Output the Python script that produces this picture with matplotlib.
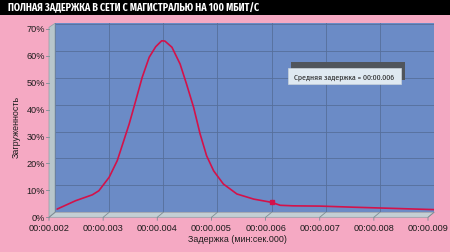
import numpy as np
import matplotlib
matplotlib.use('Agg')
import matplotlib.pyplot as plt
from matplotlib import font_manager
from matplotlib.ft2font import FT2Font
from matplotlib.patches import Polygon, Rectangle
from matplotlib.transforms import IdentityTransform

# Data: delay (ms) vs load share
delay_ms = [2.04, 2.38, 2.69, 2.81, 3.00, 3.15, 3.27, 3.37, 3.49, 3.61, 3.74,
            3.86, 3.97, 4.03, 4.16, 4.31, 4.43, 4.56, 4.68, 4.80, 4.93,
            5.11, 5.36, 5.67, 6.00, 6.16, 6.40, 6.90, 7.50, 8.00, 8.50, 9.00]
load = [0.012, 0.043, 0.065, 0.080, 0.130, 0.192, 0.266, 0.328, 0.414, 0.501,
        0.576, 0.615, 0.637, 0.636, 0.613, 0.551, 0.476, 0.390, 0.291, 0.210,
        0.154, 0.105, 0.068, 0.049, 0.037, 0.026, 0.024, 0.023, 0.019, 0.016,
        0.013, 0.010]
mean_delay = 6.0
mean_load = 0.037
x_ticks = [2, 3, 4, 5, 6, 7, 8, 9]
x_labels = ['00:00.00%d' % v for v in x_ticks]
y_ticks = [0, 0.1, 0.2, 0.3, 0.4, 0.5, 0.6, 0.7]
y_labels = ['%d%%' % round(v * 100) for v in y_ticks]

title = 'ПОЛНАЯ ЗАДЕРЖКА В СЕТИ С МАГИСТРАЛЬЮ НА 100 МБИТ/С'
x_title = 'Задержка (мин:сек.000)'
y_title = 'Загруженность'
note = 'Средняя задержка = 00:00.006'


def has_cyrillic(fname):
    try:
        cmap = FT2Font(fname).get_charmap()
    except Exception:
        return False
    return all(ord(c) in cmap for c in 'ДЖЯжю')


# a narrow face with Cyrillic for the title, if there is one
narrow = 'Liberation Sans'
for f in font_manager.fontManager.ttflist:
    if ('Narrow' in f.name or 'Condensed' in f.name) and has_cyrillic(f.fname):
        narrow = f.name
        break
title_fam = [narrow, 'Liberation Sans', 'DejaVu Sans']
fam = ['Liberation Sans', 'DejaVu Sans']

pink = '#f5a9c3'
blue = '#6b8bc6'
grid_c = '#566f9a'
red = '#d3124a'
ink = '#1c1c1c'

W, H = 450, 253
fig = plt.figure(figsize=(W / 100, H / 100), dpi=100, facecolor=pink)
renderer = fig.canvas.get_renderer()


def fit(t, width_px):
    # scale a text to the width it has in the reference
    bb = t.get_window_extent(renderer)
    t.set_fontsize(t.get_fontsize() * width_px / bb.width)


# title bar
fig.patches.append(Rectangle((0, (H - 16) / H), 1, 16 / H, transform=fig.transFigure,
                             facecolor='black', edgecolor='none'))
t = fig.text(8 / W, 1 - 8.5 / H, title, color='white', fontsize=8, fontweight='bold',
             family=title_fam, va='center', ha='left')
fit(t, 254)

# back wall = main axes
ax = fig.add_axes([55 / W, (H - 213.3) / H, 379 / W, 189 / H])
ax.set_facecolor(blue)
ax.set_xlim(2, 9)
ax.set_ylim(0, 0.702)
for s in ax.spines.values():
    s.set_visible(False)
ax.set_xticks(x_ticks)
ax.set_yticks(y_ticks)
ax.tick_params(length=0, labelbottom=False, labelleft=False)
ax.grid(True, color=grid_c, linewidth=0.6)
ax.set_axisbelow(True)

ax.plot(delay_ms, load, color=red, linewidth=1.2, solid_capstyle='round',
        solid_joinstyle='round', zorder=3)
ax.plot([mean_delay], [mean_load], 's', color=red, markersize=3.5, zorder=4)

# 3D offset of the front plane (pixels)
dx, dy = -6, -5
fig.canvas.draw()
tr = ax.transData

# floor
b0 = tr.transform((2, 0))
b1 = tr.transform((9, 0))
floor = [b0, b1, (b1[0] + dx, b1[1] + dy), (b0[0] + dx, b0[1] + dy)]
fig.patches.append(Polygon(floor, closed=True, transform=IdentityTransform(),
                           facecolor='#c3cfd4', edgecolor='#8f9ea6', linewidth=0.5))
# left wall
t0 = tr.transform((2, 0.702))
wall = [b0, t0, (t0[0] + dx, t0[1] + dy + 1), (b0[0] + dx, b0[1] + dy)]
fig.patches.append(Polygon(wall, closed=True, transform=IdentityTransform(),
                           facecolor='#b8c6cb', edgecolor='#8f9ea6', linewidth=0.5))

tick_fs = 6.6
for xv, lab in zip(x_ticks, x_labels):
    p = tr.transform((xv, 0))
    fig.lines.append(plt.Line2D([p[0], p[0] + dx, p[0] + dx], [p[1], p[1] + dy, p[1] + dy - 3],
                                transform=IdentityTransform(), color='#7d8c94', linewidth=0.6))
    fig.text(p[0] + dx, p[1] + dy - 10, lab, transform=IdentityTransform(), fontsize=tick_fs,
             family=fam, ha='center', va='center', color=ink)
for yv, lab in zip(y_ticks, y_labels):
    p = tr.transform((2, yv))
    fig.lines.append(plt.Line2D([p[0] + dx - 3, p[0] + dx], [p[1] + dy, p[1] + dy],
                                transform=IdentityTransform(), color='#7d8c94', linewidth=0.6))
    fig.text(p[0] + dx - 4, p[1] + dy, lab, transform=IdentityTransform(),
             fontsize=tick_fs, family=fam, ha='right', va='center', color=ink)

fig.text(237 / W, 1 - 240 / H, x_title, fontsize=6.4, family=fam, ha='center',
         va='center', color=ink)
fig.text(16 / W, 1 - 127 / H, y_title, fontsize=6.4, family=fam, ha='center',
         va='center', rotation=90, color=ink)

# annotation box with shadow
ax.add_patch(Rectangle((0.622, 0.698), 0.301, 0.096, transform=ax.transAxes,
                       facecolor='#50555c', edgecolor='none', zorder=5))
ax.add_patch(Rectangle((0.614, 0.677), 0.299, 0.085, transform=ax.transAxes,
                       facecolor='#dfe9f1', edgecolor='#c8d2da', linewidth=0.5, zorder=6))
t = ax.text(0.763, 0.72, note, transform=ax.transAxes, fontsize=6.2, family=title_fam,
            ha='center', va='center', color=ink, zorder=7)
fit(t, 101)

fig.savefig('out.png', dpi=100, facecolor=pink)
